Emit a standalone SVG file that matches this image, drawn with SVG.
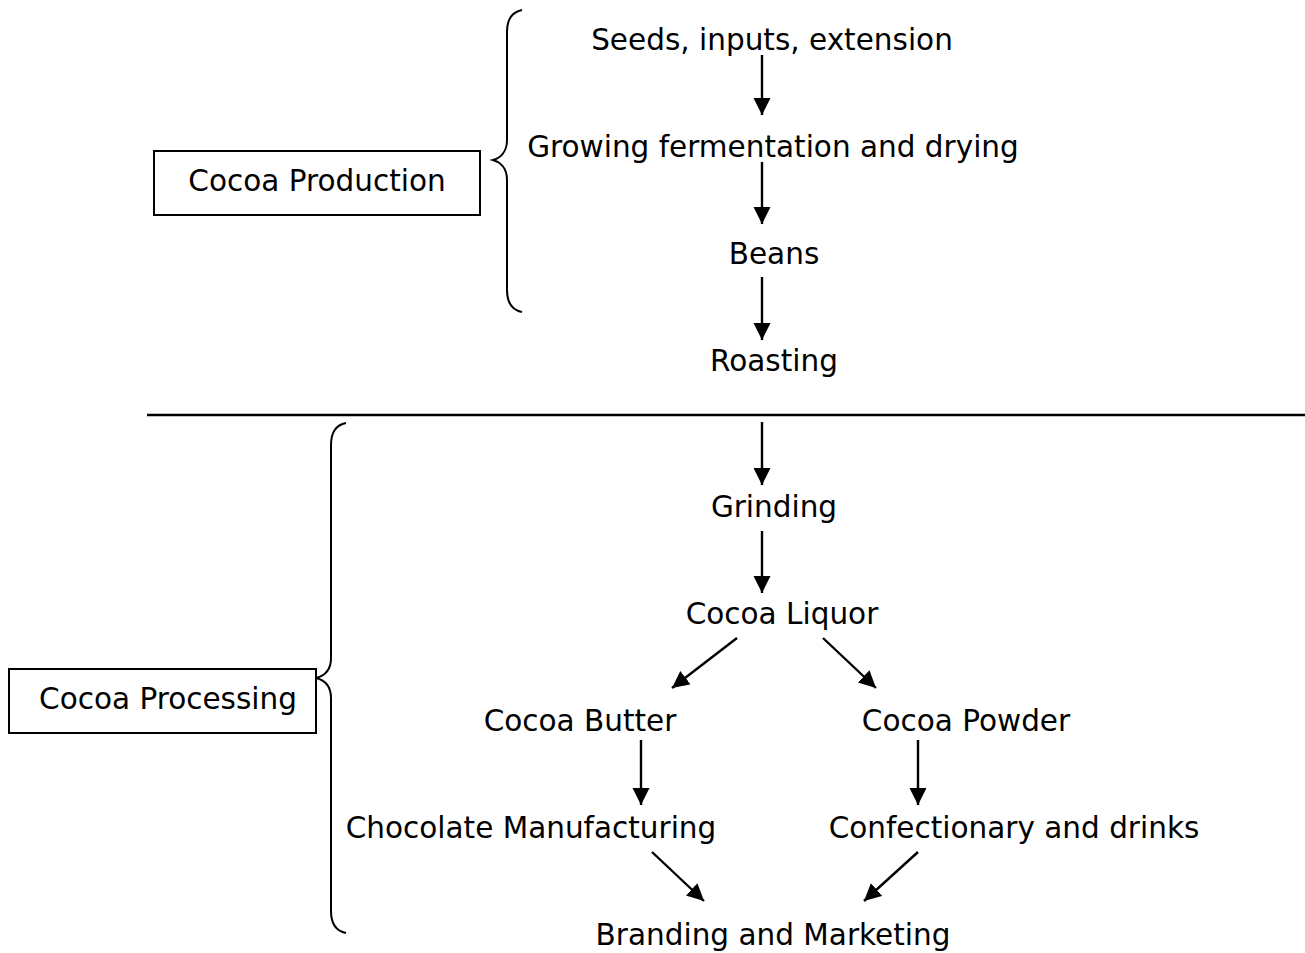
<svg xmlns="http://www.w3.org/2000/svg" width="1305" height="953" viewBox="0 0 1305 953">
  <style>
    text { font-family: "DejaVu Sans", Verdana, sans-serif; font-size: 29.5px; fill: #000; text-anchor: middle; }
    .box { fill: #fff; stroke: #000; stroke-width: 2; }
    .brace { fill: none; stroke: #000; stroke-width: 2; }
    .arrow { fill: none; stroke: #000; stroke-width: 2.4; marker-end: url(#head); }
    .rule { stroke: #000; stroke-width: 2.6; }
  </style>
  <defs>
    <marker id="head" markerUnits="userSpaceOnUse" markerWidth="18" markerHeight="18" refX="17" refY="8.5" orient="auto">
      <path d="M0,0 L17,8.5 L0,17 z" fill="#000"/>
    </marker>
  </defs>
  <rect width="1305" height="953" fill="#fff"/>

  <!-- section labels -->
  <g id="cocoa-production">
    <rect class="box" x="154" y="151" width="326" height="64"/>
    <text x="317" y="191">Cocoa Production</text>
  </g>
  <g id="cocoa-processing">
    <rect class="box" x="9" y="669" width="307" height="64"/>
    <text x="168" y="709">Cocoa Processing</text>
  </g>

  <!-- braces and divider -->
  <g id="production-brace">
    <path class="brace" d="M522,10 C512,12 507,20 507,32 L507,140 C507,152 500,158 493,160 C500,162 507,168 507,180 L507,290 C507,302 512,310 522,312"/>
  </g>
  <g id="processing-brace">
    <path class="brace" d="M346,423 C336,425 331,433 331,445 L331,658 C331,670 324,676 316,678 C324,680 331,686 331,698 L331,911 C331,923 336,931 346,933"/>
  </g>
  <g id="divider">
    <line class="rule" x1="147" y1="415" x2="1305" y2="415"/>
  </g>

  <!-- steps -->
  <g id="seeds"><text x="772" y="50">Seeds, inputs, extension</text></g>
  <g id="growing"><text x="773" y="157">Growing fermentation and drying</text></g>
  <g id="beans"><text x="774" y="264">Beans</text></g>
  <g id="roasting"><text x="774" y="371">Roasting</text></g>
  <g id="grinding"><text x="774" y="517">Grinding</text></g>
  <g id="liquor"><text x="782" y="624">Cocoa Liquor</text></g>
  <g id="butter"><text x="580" y="731">Cocoa Butter</text></g>
  <g id="powder"><text x="966" y="731">Cocoa Powder</text></g>
  <g id="chocolate"><text x="531" y="838">Chocolate Manufacturing</text></g>
  <g id="confectionary"><text x="1014" y="838">Confectionary and drinks</text></g>
  <g id="branding"><text x="773" y="945">Branding and Marketing</text></g>

  <!-- connectors -->
  <g id="connectors">
    <line class="arrow" x1="762" y1="55" x2="762" y2="115"/>
    <line class="arrow" x1="762" y1="162" x2="762" y2="224"/>
    <line class="arrow" x1="762" y1="277" x2="762" y2="340"/>
    <line class="arrow" x1="762" y1="422" x2="762" y2="485"/>
    <line class="arrow" x1="762" y1="531" x2="762" y2="593"/>
    <line class="arrow" x1="737" y1="638" x2="672" y2="688"/>
    <line class="arrow" x1="823" y1="638" x2="876" y2="688"/>
    <line class="arrow" x1="641" y1="740" x2="641" y2="805"/>
    <line class="arrow" x1="918" y1="740" x2="918" y2="805"/>
    <line class="arrow" x1="652" y1="852" x2="704" y2="901"/>
    <line class="arrow" x1="918" y1="852" x2="864" y2="901"/>
  </g>
</svg>
